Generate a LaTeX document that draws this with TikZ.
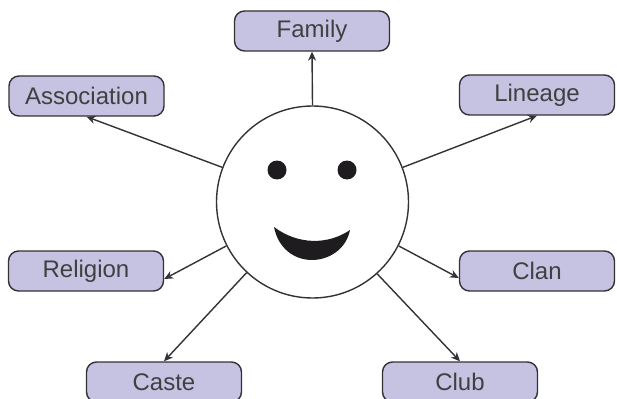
\documentclass[tikz,border=0pt]{standalone}
\usepackage{fontspec}
\setmainfont{Liberation Sans}
\usetikzlibrary{arrows.meta}
\definecolor{boxfill}{RGB}{197,194,226}
\definecolor{boxline}{RGB}{50,50,55}
\definecolor{faceink}{RGB}{30,28,30}
\tikzset{
  groupbox/.style={draw=boxline,fill=boxfill,rounded corners=10pt,line width=1.4pt,minimum width=155pt,minimum height=40pt,inner sep=0pt,font=\fontsize{24}{26}\selectfont,text=black!75},
  link/.style={-{Stealth[length=9pt,width=8pt]},line width=1.4pt,color=boxline}
}
\begin{document}
\begin{tikzpicture}[x=1pt,y=-1pt]
\useasboundingbox (0,0) rectangle (617,398);

% to draw the face
\node [circle,draw=boxline,line width=1.4pt,minimum size=192pt,inner sep=0pt] (face) at (312.5,202) {};
\fill [faceink] (277,170) circle (9.5);
\fill [faceink] (347,170) circle (9.5);
\fill [faceink] (274,227) .. controls (298,245) and (328,245) .. (350,230) .. controls (346,250) and (328,260) .. (312,260) .. controls (294,260) and (278,248) .. (274,227) -- cycle;

% to write entities
\node [groupbox] (family) at (312,31) {Family};
\node [groupbox] (assoc) at (86.5,96) {Association};
\node [groupbox] (lineage) at (537,95) {Lineage};
\node [groupbox] (religion) at (86,271) {Religion};
\node [groupbox] (clan) at (537,271) {Clan};
\node [groupbox] (caste) at (164,382) {Caste};
\node [groupbox] (club) at (460,382) {Club};

% to draw arrows
\draw [link] (face.90) -- (family.south);
\draw [link] (face.159) -- (assoc.south);
\draw [link] (face.21) -- (lineage.south);
\draw [link] (face.207) -- ([yshift=-8pt]religion.east);
\draw [link] (face.-27) -- ([yshift=-7pt]clan.west);
\draw [link] (face.-133) -- (caste.north);
\draw [link] (face.-48) -- (club.north);
\end{tikzpicture}
\end{document}
